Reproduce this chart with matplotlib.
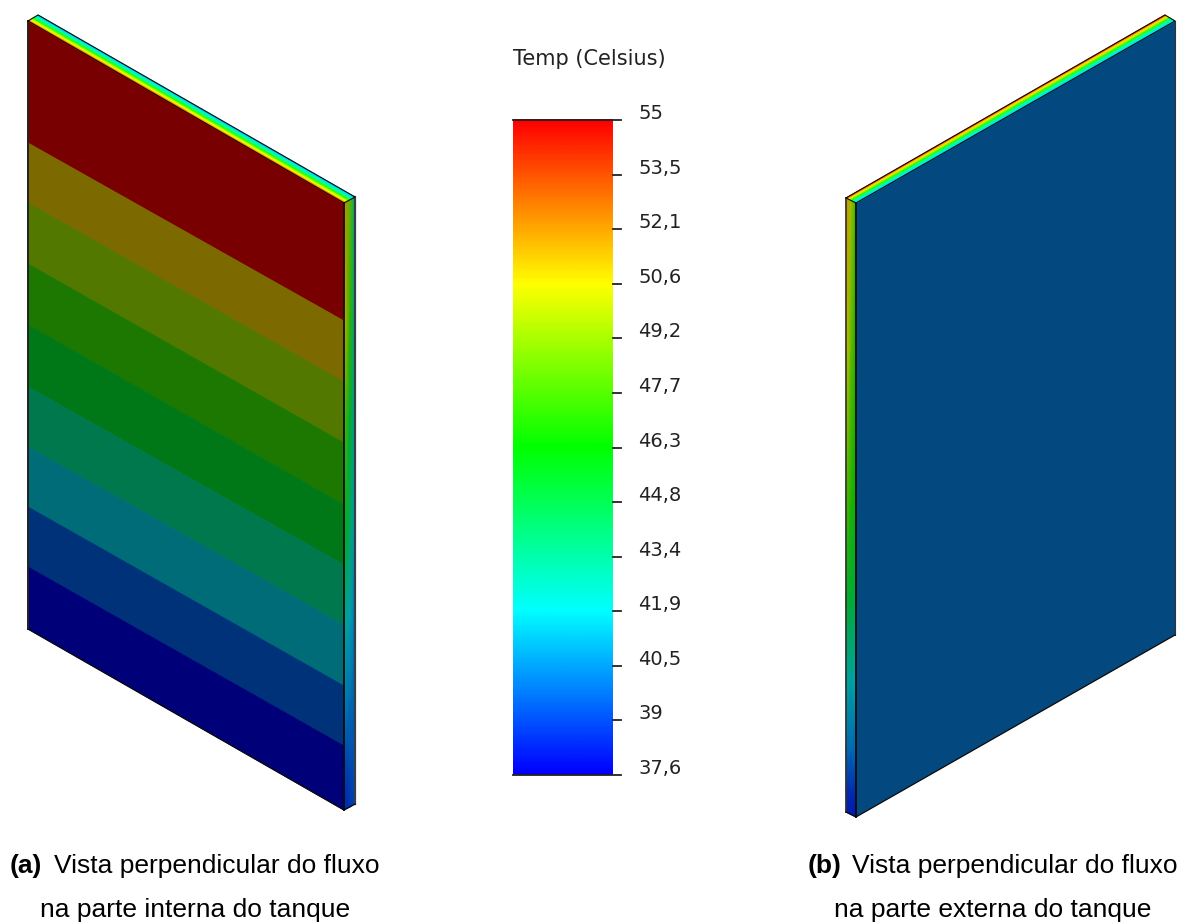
import numpy as np
import matplotlib
matplotlib.use('Agg')
import matplotlib.pyplot as plt
from matplotlib.colors import LinearSegmentedColormap, Normalize

# temperature scale
temp_min = 37.6
temp_max = 55
tick_labels = ['55', '53,5', '52,1', '50,6', '49,2', '47,7', '46,3', '44,8', '43,4', '41,9', '40,5', '39', '37,6']
legend_title = 'Temp (Celsius)'

# front face (a), from the hot band down
band_colors = ['#780000', '#7c6a00', '#527800', '#1c7800', '#007818', '#00784e', '#006c78', '#00327a', '#000078']
band_edges_left = [21, 143, 203, 264, 325, 387, 447, 507, 567, 629]
band_edges_right = [203, 321, 382, 443, 505, 565, 625, 686, 746, 810]

# front face (b)
face_b_color = '#03487f'

# thin faces, temperatures read across the strip
top_a_temps = [54, 50.6, 47, 43, 41]
top_b_temps = [54, 51, 47, 43, 41]
side_a_rows = [200, 320, 420, 530, 620, 700, 770, 807]
side_a_inner = [52.8, 51.5, 48, 46, 43, 41, 39.2, 38.6]
side_a_outer = [43.5, 43, 42.5, 41.8, 40.8, 40.2, 39.8, 39.5]
side_b_rows = [198, 350, 500, 600, 680, 750, 790, 812]
side_b_outer = [52.5, 50.5, 48, 45.5, 42.5, 40.5, 38.8, 38.3]
side_b_inner = [47, 46.5, 46, 44.5, 42, 40.3, 38.8, 38.3]

captions_a = ['(a)', 'Vista perpendicular do fluxo', 'na parte interna do tanque']
captions_b = ['(b)', 'Vista perpendicular do fluxo', 'na parte externa do tanque']

jet = LinearSegmentedColormap.from_list('temp', ['#0000ff', '#00ffff', '#00ff00', '#ffff00', '#ff0000'])
norm = Normalize(temp_min, temp_max)
shaded = LinearSegmentedColormap.from_list('temp_dark', ['#0000b0', '#00a0b0', '#00b000', '#d0c000', '#d05000'])

fig = plt.figure(figsize=(11.81, 9.22), dpi=100)
ax = fig.add_axes([0, 0, 1, 1])

black = '#0a0a0a'

# ---- panel a ----
for i in range(len(band_colors)):
    ax.fill([28, 344, 344, 28],
            [band_edges_left[i], band_edges_right[i], band_edges_right[i + 1], band_edges_left[i + 1]],
            facecolor=band_colors[i], edgecolor=band_colors[i], lw=0.6, zorder=2)

# top strip
t = np.linspace(0, 1, len(top_a_temps))
X = np.array([[28 + 10 * a, 344 + 11 * a] for a in t])
Y = np.array([[21 - 6 * a, 203 - 6 * a] for a in t])
C = np.array([[v, v] for v in top_a_temps])
ax.pcolormesh(X, Y, C, shading='gouraud', cmap=jet, norm=norm, zorder=2)

# side strip
X = np.array([[344, 350, 355]] * len(side_a_rows))
Y = np.array([[r + 3, r, r - 3] for r in side_a_rows], dtype=float)
C = np.array([[a, (a + b) / 2, b] for a, b in zip(side_a_inner, side_a_outer)])
ax.pcolormesh(X, Y, C, shading='gouraud', cmap=shaded, norm=norm, zorder=2)

ax.plot([28, 28], [21, 629], color='#222222', lw=1.4, zorder=3)
ax.plot([344, 344], [203, 810], color=black, lw=1.3, zorder=3)
ax.plot([355, 355], [197, 804], color='#33404a', lw=1.6, zorder=3)
ax.plot([28, 344], [629, 810], color=black, lw=0.9, zorder=3)
ax.plot([344, 355], [810, 804], color=black, lw=0.9, zorder=3)
ax.plot([28, 344, 355, 38, 28], [21, 203, 197, 15, 21], color=black, lw=0.8, zorder=3)

# ---- panel b ----
ax.fill([856, 1175, 1175, 856], [203, 21, 635, 817], color=face_b_color, lw=0, zorder=2)

t = np.linspace(0, 1, len(top_b_temps))
X = np.array([[846 + 10 * a, 1165 + 10 * a] for a in t])
Y = np.array([[198 + 5 * a, 15 + 6 * a] for a in t])
C = np.array([[v, v] for v in top_b_temps])
ax.pcolormesh(X, Y, C, shading='gouraud', cmap=jet, norm=norm, zorder=2)

X = np.array([[846, 851, 856]] * len(side_b_rows))
Y = np.array([[r, r + 2.5, r + 5] for r in side_b_rows], dtype=float)
C = np.array([[a, (a + b) / 2, b] for a, b in zip(side_b_outer, side_b_inner)])
ax.pcolormesh(X, Y, C, shading='gouraud', cmap=shaded, norm=norm, zorder=2)

ax.plot([856, 856], [203, 817], color=black, lw=1.3, zorder=3)
ax.plot([846, 846], [198, 812], color='#333333', lw=1.2, zorder=3)
ax.plot([1175, 1175], [21, 635], color='#333333', lw=0.8, zorder=3)
ax.plot([856, 1175], [817, 635], color=black, lw=0.9, zorder=3)
ax.plot([846, 856], [812, 817], color=black, lw=0.9, zorder=3)
ax.plot([846, 856, 1175, 1165, 846], [198, 203, 21, 15, 198], color=black, lw=0.8, zorder=3)

# ---- colour bar ----
levels = np.linspace(temp_max, temp_min, 400).reshape(-1, 1)
ax.imshow(levels, extent=[513, 613, 775, 120], cmap=jet, norm=norm, aspect='auto', zorder=2)
tick_y = np.linspace(120, 775, len(tick_labels))
for y, lab in zip(tick_y, tick_labels):
    if y == tick_y[0] or y == tick_y[-1]:
        ax.plot([513, 621], [y, y], color='#222222', lw=1.3, zorder=3)
    else:
        ax.plot([613, 621], [y, y], color='#222222', lw=1.3, zorder=3)
    ax.text(638, y - 1, lab, fontsize=14, family='DejaVu Sans', color='#222222', va='baseline', ha='left')
ax.text(589, 65, legend_title, fontsize=15, family='DejaVu Sans', color='#222222', va='baseline', ha='center')

# ---- captions ----
cap = dict(fontsize=19, family='Liberation Sans', color='black', va='baseline')
ax.text(10, 873, captions_a[0], fontweight='bold', ha='left', **cap)
ax.text(380, 873, captions_a[1], ha='right', **cap)
ax.text(195, 917, captions_a[2], ha='center', **cap)
ax.text(808, 873, captions_b[0], fontweight='bold', ha='left', **cap)
ax.text(1178, 873, captions_b[1], ha='right', **cap)
ax.text(993, 917, captions_b[2], ha='center', **cap)

ax.set_xlim(0, 1181)
ax.set_ylim(922, 0)
ax.axis('off')

fig.savefig('out.png', dpi=100)
